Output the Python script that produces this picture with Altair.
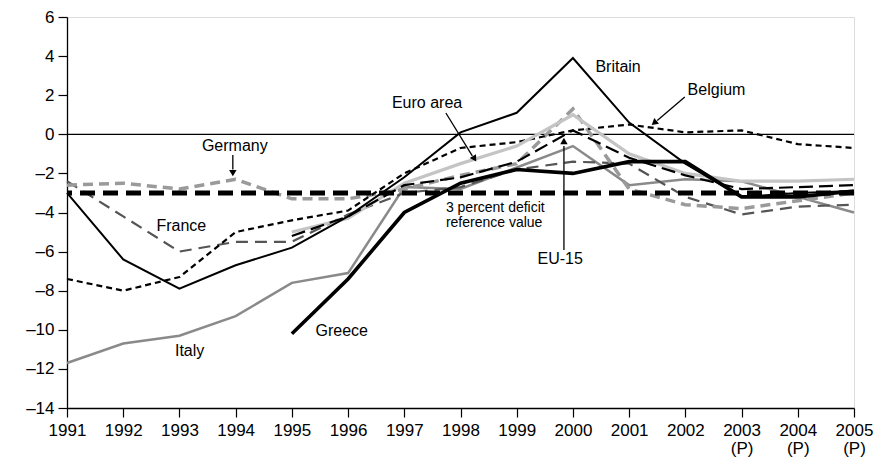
import altair as alt
import pandas as pd

years = list(range(1991, 2006))
britain = [-3.0, -6.4, -7.9, -6.7, -5.8, -4.2, -2.2, 0.1, 1.1, 3.9, 0.6, -1.5, -3.2, -3.0, -2.9]
belgium = [-7.4, -8.0, -7.3, -5.0, -4.4, -3.9, -2.0, -0.7, -0.4, 0.2, 0.5, 0.1, 0.2, -0.5, -0.7]
germany = [-2.6, -2.5, -2.8, -2.3, -3.3, -3.3, -2.8, -2.1, -1.5, 1.3, -2.8, -3.6, -3.8, -3.4, -3.0]
france = [-2.4, -4.2, -6.0, -5.5, -5.5, -4.1, -3.0, -2.7, -1.8, -1.4, -1.5, -3.2, -4.1, -3.7, -3.6]
italy = [-11.7, -10.7, -10.3, -9.3, -7.6, -7.1, -2.7, -2.8, -1.7, -0.6, -2.6, -2.3, -2.4, -3.2, -4.0]
greece = [None, None, None, None, -10.2, -7.4, -4.0, -2.5, -1.8, -2.0, -1.4, -1.4, -3.2, -3.2, -2.9]
euro_area = [None, None, None, None, -5.0, -4.3, -2.5, -1.5, -0.6, 1.0, -1.0, -2.0, -2.4, -2.4, -2.3]
eu15 = [None, None, None, None, -5.2, -4.2, -2.6, -2.2, -1.4, 0.2, -1.2, -2.1, -2.8, -2.7, -2.6]
reference_value = [-3.0]
zero_value = [0.0]

# styles: (name, values, color, width, dash)
series = [
    ("Italy", italy, "#8a8a8a", 2.5, []),
    ("France", france, "#555555", 2.2, [12, 7]),
    ("Germany", germany, "#9a9a9a", 3.5, [10, 6]),
    ("Belgium", belgium, "#000000", 2.2, [6, 4]),
    ("Euro area", euro_area, "#c4c4c4", 3.2, []),
    ("EU-15", eu15, "#000000", 2.2, [14, 6]),
    ("Britain", britain, "#000000", 2.0, []),
    ("Greece", greece, "#000000", 3.6, []),
]

ann_text = ["Britain", "Belgium", "Euro area", "Germany", "France", "EU-15", "Italy", "Greece"]
ann_x = [2000.40, 2002.04, 1996.78, 1993.40, 1992.59, 1999.37, 1992.92, 1995.42]
ann_y = [3.44, 2.27, 1.60, -0.60, -4.69, -6.38, -11.08, -10.06]

note_text = ["3 percent deficit", "reference value"]
note_x = [1997.74, 1997.74]
note_y = [-3.77, -4.54]

arrow_x = [2001.99, 1997.74, 1993.95, 1999.84]
arrow_y = [1.91, 1.09, -1.06, -5.92]
arrow_x2 = [2001.50, 1998.21, 1993.95, 1999.84]
arrow_y2 = [0.70, -1.10, -1.80, -0.60]
head_x = [2001.46, 1998.24, 1993.95, 1999.84]
head_y = [0.62, -1.21, -1.93, -0.40]
head_angle = [230, 148, 180, 0]

X = alt.X("year:Q", scale=alt.Scale(domain=[1991, 2005], nice=False, zero=False),
          axis=alt.Axis(values=years, format="d", title=None, grid=False, tickSize=9,
                        labelFontSize=17, labelFont="Liberation Sans", labelColor="black",
                        labelPadding=5, labelFlush=False, labelOverlap=False,
                        labelExpr="datum.value >= 2003 ? [datum.label, '(P)'] : datum.label",
                        labelLineHeight=18,
                        domainColor="black", tickColor="black", domainWidth=1.3, tickWidth=1.2))
Y = alt.Y("value:Q", scale=alt.Scale(domain=[-14, 6], nice=False, zero=False),
          axis=alt.Axis(values=list(range(-14, 7, 2)), title=None, grid=False, tickSize=9,
                        labelFontSize=17, labelFont="Liberation Sans", labelColor="black",
                        labelPadding=4,
                        labelExpr="datum.value < 0 ? '\u2013' + abs(datum.value) : datum.label",
                        domainColor="black", tickColor="black", domainWidth=1.3, tickWidth=1.2))

layers = []
zero_df = pd.DataFrame({"value": zero_value})
layers.append(alt.Chart(zero_df).mark_rule(color="black", strokeWidth=1.2).encode(y=Y))

for name, vals, color, w, dash in series:
    df = pd.DataFrame({"year": years, "value": vals}).dropna()
    kw = dict(color=color, strokeWidth=w)
    if dash:
        kw["strokeDash"] = dash
    layers.append(alt.Chart(df).mark_line(**kw).encode(x=X, y=Y))

ref_df = pd.DataFrame({"value": reference_value})
layers.append(alt.Chart(ref_df).mark_rule(color="black", strokeWidth=5, strokeDash=[15, 8]).encode(y=Y))

ann_df = pd.DataFrame({"year": ann_x, "value": ann_y, "t": ann_text})
layers.append(alt.Chart(ann_df).mark_text(align="left", baseline="middle", fontSize=16,
                                          font="Liberation Sans", color="black").encode(x=X, y=Y, text="t:N"))
note_df = pd.DataFrame({"year": note_x, "value": note_y, "t": note_text})
layers.append(alt.Chart(note_df).mark_text(align="left", baseline="middle", fontSize=14,
                                           font="Liberation Sans", color="black").encode(x=X, y=Y, text="t:N"))

arr_df = pd.DataFrame({"year": arrow_x, "value": arrow_y, "year2": arrow_x2, "value2": arrow_y2})
layers.append(alt.Chart(arr_df).mark_rule(color="black", strokeWidth=1.3).encode(
    x=X, y=Y, x2="year2:Q", y2="value2:Q"))
head_df = pd.DataFrame({"year": head_x, "value": head_y, "angle": head_angle})
layers.append(alt.Chart(head_df).mark_point(shape="triangle", filled=True, color="black", size=55,
                                            opacity=1).encode(
    x=X, y=Y, angle=alt.Angle("angle:Q", scale=None)))

chart = alt.layer(*layers).properties(
    width=787, height=391,
    padding={"left": 59, "top": 9, "right": 21, "bottom": 50},
    autosize=alt.AutoSizeParams(type="none"),
).configure_view(stroke="black", strokeWidth=1.2).configure(background="white")

chart.save("out.html", embed_options={"renderer": "svg", "actions": False})
